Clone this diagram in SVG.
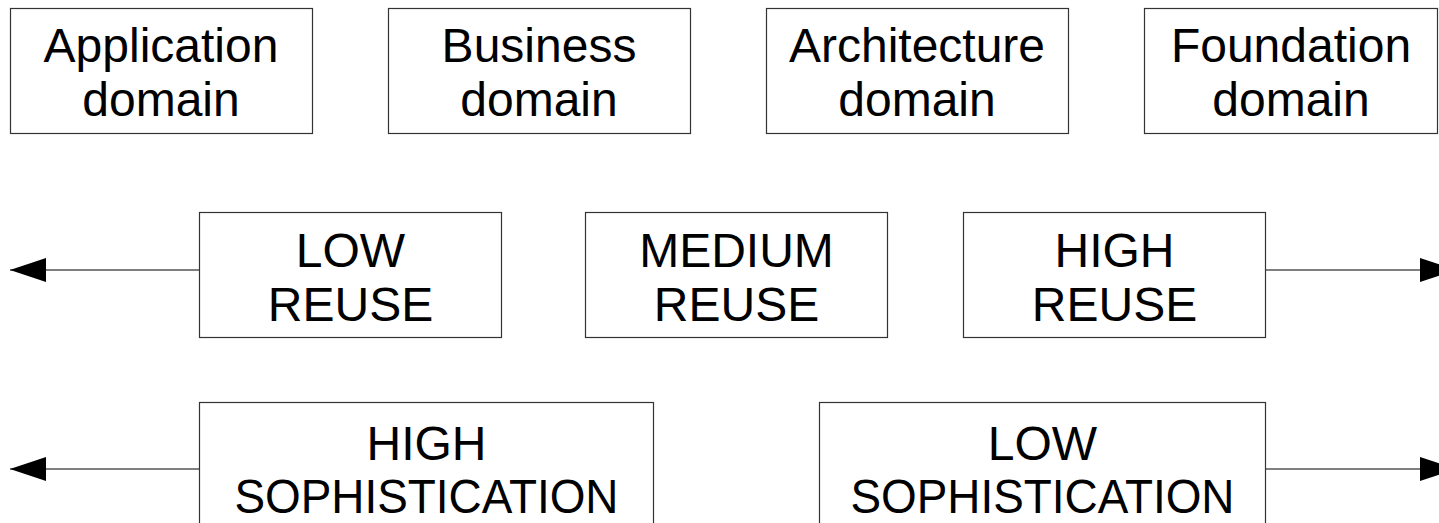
<svg xmlns="http://www.w3.org/2000/svg" width="1439" height="523" viewBox="0 0 1439 523">
<defs>
<style>
.box{fill:#fff;stroke:#333;stroke-width:1.2}
.t{font-family:"Liberation Sans",Arial,sans-serif;font-size:48px;fill:#000;text-anchor:middle}
.conn{stroke:#000;stroke-width:1.2;fill:none}
</style>
<marker id="ah" viewBox="0 0 36 24" refX="36" refY="12" markerWidth="36" markerHeight="24" markerUnits="userSpaceOnUse" orient="auto">
<path d="M0,0 L36,12 L0,24 Z" fill="#000"/>
</marker>
</defs>
<rect width="1439" height="523" fill="#fff"/>
<g id="connectors">
<line class="conn" x1="199" y1="270" x2="10" y2="270" marker-end="url(#ah)"/>
<line class="conn" x1="1265" y1="270" x2="1456" y2="270" marker-end="url(#ah)"/>
<line class="conn" x1="199" y1="469" x2="10" y2="469" marker-end="url(#ah)"/>
<line class="conn" x1="1265" y1="469" x2="1456" y2="469" marker-end="url(#ah)"/>
</g>
<g id="application">
<rect class="box" x="10.5" y="8.5" width="302" height="125"/>
<text class="t" x="161" y="62">Application</text>
<text class="t" x="161" y="116">domain</text>
</g>
<g id="business">
<rect class="box" x="388.5" y="8.5" width="302" height="125"/>
<text class="t" x="539" y="62">Business</text>
<text class="t" x="539" y="116">domain</text>
</g>
<g id="architecture">
<rect class="box" x="766.5" y="8.5" width="302" height="125"/>
<text class="t" x="917" y="62">Architecture</text>
<text class="t" x="917" y="116">domain</text>
</g>
<g id="foundation">
<rect class="box" x="1144.5" y="8.5" width="293" height="125"/>
<text class="t" x="1291" y="62">Foundation</text>
<text class="t" x="1291" y="116">domain</text>
</g>
<g id="low-reuse">
<rect class="box" x="199.5" y="212.5" width="302" height="125"/>
<text class="t" x="350.5" y="267">LOW</text>
<text class="t" x="350.5" y="321">REUSE</text>
</g>
<g id="medium-reuse">
<rect class="box" x="585.5" y="212.5" width="302" height="125"/>
<text class="t" x="736.5" y="267">MEDIUM</text>
<text class="t" x="736.5" y="321">REUSE</text>
</g>
<g id="high-reuse">
<rect class="box" x="963.5" y="212.5" width="302" height="125"/>
<text class="t" x="1114.5" y="267">HIGH</text>
<text class="t" x="1114.5" y="321">REUSE</text>
</g>
<g id="high-sophistication">
<rect class="box" x="199.5" y="402.5" width="454" height="140"/>
<text class="t" x="426.5" y="460">HIGH</text>
<text class="t" x="426.5" y="513" textLength="384" lengthAdjust="spacingAndGlyphs">SOPHISTICATION</text>
</g>
<g id="low-sophistication">
<rect class="box" x="819.5" y="402.5" width="446" height="140"/>
<text class="t" x="1042.5" y="460">LOW</text>
<text class="t" x="1042.5" y="513" textLength="384" lengthAdjust="spacingAndGlyphs">SOPHISTICATION</text>
</g>
</svg>
